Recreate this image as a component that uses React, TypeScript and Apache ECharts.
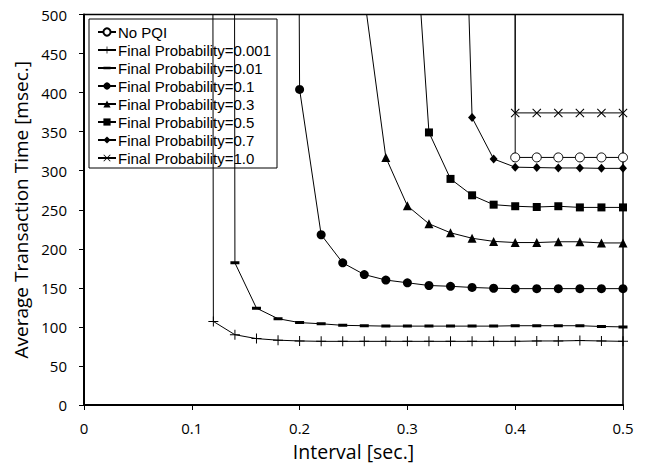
import React, { useEffect, useRef } from "react";
import * as echarts from "echarts";

// ---- Data ----
const noPqiX = [0.38, 0.40, 0.42, 0.44, 0.46, 0.48, 0.50];
const noPqiY = [100000, 317, 317, 317, 317, 317, 317];

const p0001X = [0.10, 0.12, 0.14, 0.16, 0.18, 0.20, 0.22, 0.24, 0.26, 0.28, 0.30, 0.32, 0.34, 0.36, 0.38, 0.40, 0.42, 0.44, 0.46, 0.48, 0.50];
const p0001Y = [20000, 107, 90, 85, 83, 82, 81.5, 81.5, 81.5, 81.5, 81.5, 81.5, 81.5, 81.5, 81.5, 81.5, 82, 82, 82.5, 82, 81.5];

const p001X = [0.12, 0.14, 0.16, 0.18, 0.20, 0.22, 0.24, 0.26, 0.28, 0.30, 0.32, 0.34, 0.36, 0.38, 0.40, 0.42, 0.44, 0.46, 0.48, 0.50];
const p001Y = [20000, 182, 124, 110.5, 105.5, 104, 102, 101.5, 101, 101, 101, 101, 101, 101, 101.5, 101.5, 101.5, 101.5, 100.5, 100];

const p01X = [0.18, 0.20, 0.22, 0.24, 0.26, 0.28, 0.30, 0.32, 0.34, 0.36, 0.38, 0.40, 0.42, 0.44, 0.46, 0.48, 0.50];
const p01Y = [6000, 404, 218, 182, 167, 160, 156.5, 153, 152, 150.5, 149.5, 149, 149, 149, 149, 149, 149];

const p03X = [0.26, 0.28, 0.30, 0.32, 0.34, 0.36, 0.38, 0.40, 0.42, 0.44, 0.46, 0.48, 0.50];
const p03Y = [523, 317, 255, 232, 220.5, 213.5, 209.5, 208, 208, 209, 209, 207.5, 207.5];

const p05X = [0.30, 0.32, 0.34, 0.36, 0.38, 0.40, 0.42, 0.44, 0.46, 0.48, 0.50];
const p05Y = [757, 349, 289.5, 268.5, 256.5, 254.5, 253.5, 254.5, 253, 253, 253];

const p07X = [0.34, 0.36, 0.38, 0.40, 0.42, 0.44, 0.46, 0.48, 0.50];
const p07Y = [1280, 368, 315, 304.5, 304, 303.5, 303.5, 303, 303];

const p10X = [0.38, 0.40, 0.42, 0.44, 0.46, 0.48, 0.50];
const p10Y = [100000, 374, 374, 374, 374, 374, 374];

const seriesNames = [
  "No PQI",
  "Final Probability=0.001",
  "Final Probability=0.01",
  "Final Probability=0.1",
  "Final Probability=0.3",
  "Final Probability=0.5",
  "Final Probability=0.7",
  "Final Probability=1.0",
];

const xTickLabels = ["0", "0.1", "0.2", "0.3", "0.4", "0.5"];
const yTickLabels = ["0", "50", "100", "150", "200", "250", "300", "350", "400", "450", "500"];

const FONT = "Open Sans";
const LEGEND_FONT = "Liberation Sans";

const PLUS = "path://M0,4.5L10,4.5L10,5.5L0,5.5Z M4.5,0L5.5,0L5.5,10L4.5,10Z";
const CROSS = "path://M0,0.8L0.8,0L10,9.2L9.2,10Z M9.2,0L10,0.8L0.8,10L0,9.2Z";
// dash drawn inside a square box (degenerate sub-paths set the box)
const DASH = "path://M0,0L0.001,0L0.001,0.001Z M9,9L8.999,9L8.999,8.999Z M0,3L9,3L9,6L0,6Z";

function pairs(xs: number[], ys: number[]) {
  return xs.map((x, i) => [x, ys[i]]);
}

export default function App() {
  const ref = useRef<HTMLDivElement>(null);

  useEffect(() => {
    if (!ref.current) return;
    const chart = echarts.init(ref.current, null, { renderer: "svg" });

    const mk = (
      name: string,
      xs: number[],
      ys: number[],
      symbol: string,
      symbolSize: number | number[],
      fill: string,
      border: number
    ) => ({
      name,
      type: "line",
      data: pairs(xs, ys),
      symbol,
      symbolSize,
      showSymbol: true,
      clip: true,
      z: 5,
      lineStyle: { color: "#000", width: 1 },
      itemStyle: { color: fill, borderColor: "#000", borderWidth: border },
      emphasis: { disabled: true },
    });

    const series = [
      mk(seriesNames[0], noPqiX, noPqiY, "circle", 9, "#fff", 1),
      mk(seriesNames[1], p0001X, p0001Y, PLUS, 10, "#000", 0),
      mk(seriesNames[2], p001X, p001Y, DASH, 9, "#000", 0),
      mk(seriesNames[3], p01X, p01Y, "circle", 9, "#000", 0),
      mk(seriesNames[4], p03X, p03Y, "triangle", 9, "#000", 0),
      mk(seriesNames[5], p05X, p05Y, "rect", 8, "#000", 0),
      mk(seriesNames[6], p07X, p07Y, "diamond", [8, 9], "#000", 0),
      mk(seriesNames[7], p10X, p10Y, CROSS, 9, "#000", 0),
    ];

    chart.setOption({
      animation: false,
      backgroundColor: "#fff",
      textStyle: { fontFamily: FONT, color: "#000" },
      grid: {
        left: 84,
        right: 24,
        top: 14.5,
        bottom: 61,
        show: true,
        borderColor: "#000",
        borderWidth: 1.5,
        backgroundColor: "transparent",
      },
      legend: {
        show: true,
        z: 1,
        orient: "vertical",
        left: 89,
        top: 19,
        data: seriesNames,
        backgroundColor: "#fff",
        borderColor: "#000",
        borderWidth: 1,
        borderRadius: 0,
        padding: [4, 6, 1, 8],
        itemGap: 0,
        itemWidth: 18,
        itemHeight: 9,
        selectedMode: false,
        textStyle: {
          fontFamily: LEGEND_FONT,
          fontSize: 15,
          lineHeight: 18,
          color: "#000",
          padding: [0, 0, 0, -3],
        },
      },
      xAxis: {
        type: "value",
        min: 0,
        max: 0.5,
        interval: 0.1,
        name: "Interval [sec.]",
        nameLocation: "middle",
        nameGap: 36,
        nameTextStyle: { fontFamily: FONT, fontSize: 19.5, color: "#000" },
        axisLine: { show: true, lineStyle: { color: "#000", width: 2 } },
        axisTick: { show: true, inside: false, length: 5, lineStyle: { color: "#000", width: 1 } },
        axisLabel: {
          fontFamily: FONT,
          fontSize: 15,
          color: "#000",
          margin: 15,
          formatter: (_v: number, i: number) => xTickLabels[i] ?? String(_v),
        },
        splitLine: { show: false },
      },
      yAxis: {
        type: "value",
        min: 0,
        max: 500,
        interval: 50,
        name: "Average Transaction Time [msec.]",
        nameLocation: "middle",
        nameGap: 51,
        nameTextStyle: { fontFamily: FONT, fontSize: 19, color: "#000" },
        axisLine: { show: true, lineStyle: { color: "#000", width: 2 } },
        axisTick: { show: true, inside: false, length: 5, lineStyle: { color: "#000", width: 1 } },
        axisLabel: {
          fontFamily: FONT,
          fontSize: 15,
          color: "#000",
          margin: 17,
          formatter: (_v: number, i: number) => yTickLabels[i] ?? String(_v),
        },
        splitLine: { show: false },
      },
      series,
    });

    return () => chart.dispose();
  }, []);

  return <div ref={ref} style={{ width: 647, height: 466, position: "absolute", left: 0, top: 0 }} />;
}
